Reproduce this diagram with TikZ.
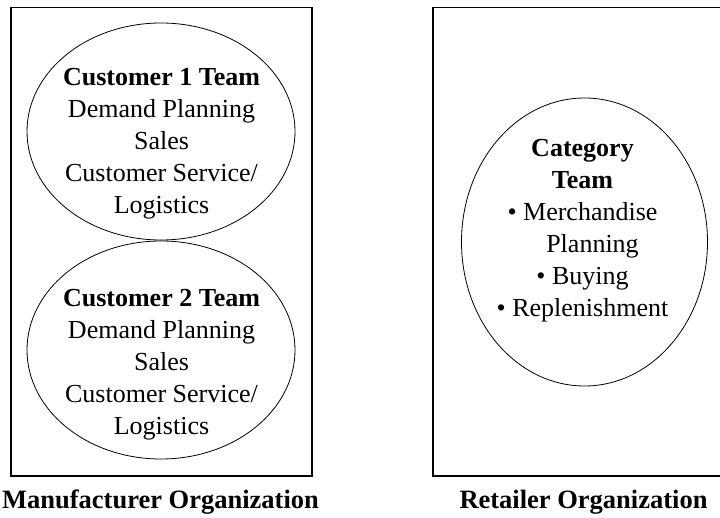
\documentclass[tikz,border=0pt]{standalone}
\usepackage{fontspec}
\setmainfont{Liberation Serif}
\usetikzlibrary{shapes.geometric}
\begin{document}
\begin{tikzpicture}[x=1pt,y=1pt,
  orgbox/.style={draw, line width=1.2pt},
  team/.style={draw, ellipse, line width=0.8pt, inner sep=0pt},
  teamtext/.style={align=center, inner sep=0pt, anchor=north, font=\fontsize{26}{32}\selectfont},
  orglabel/.style={inner sep=0pt, anchor=base, font=\fontsize{26.5}{32}\selectfont\bfseries}]
\useasboundingbox (0,0) rectangle (720,517);
\clip (0,0) rectangle (720,517);
\path[orgbox] (11,509.7) rectangle (312,41);
\path[orgbox] (433,509.7) rectangle (740,41);
\node[team, minimum width=268pt, minimum height=217pt] (e1) at (161,385.5) {};
\node[team, minimum width=268pt, minimum height=218pt] (e2) at (161,167) {};
\node[team, minimum width=246pt, minimum height=288pt] (e3) at (584.5,275) {};
\node[teamtext] (t1) at (161.5,448.5) {\textbf{Customer 1 Team}\\Demand Planning\\Sales\\Customer Service/\\Logistics};
\node[teamtext] (t2) at (161.5,227.8) {\textbf{Customer 2 Team}\\Demand Planning\\Sales\\Customer Service/\\Logistics};
\node[teamtext] (t3) at (582.5,377.8) {\textbf{Category}\\\textbf{Team}\\\textbullet\ Merchandise\\\hspace*{20pt}Planning\\\textbullet\ Buying\\\textbullet\ Replenishment};
\node[orglabel] (l1) at (160.5,8.5) {Manufacturer Organization};
\node[orglabel] (l2) at (583.5,8.5) {Retailer Organization};
\end{tikzpicture}
\end{document}
